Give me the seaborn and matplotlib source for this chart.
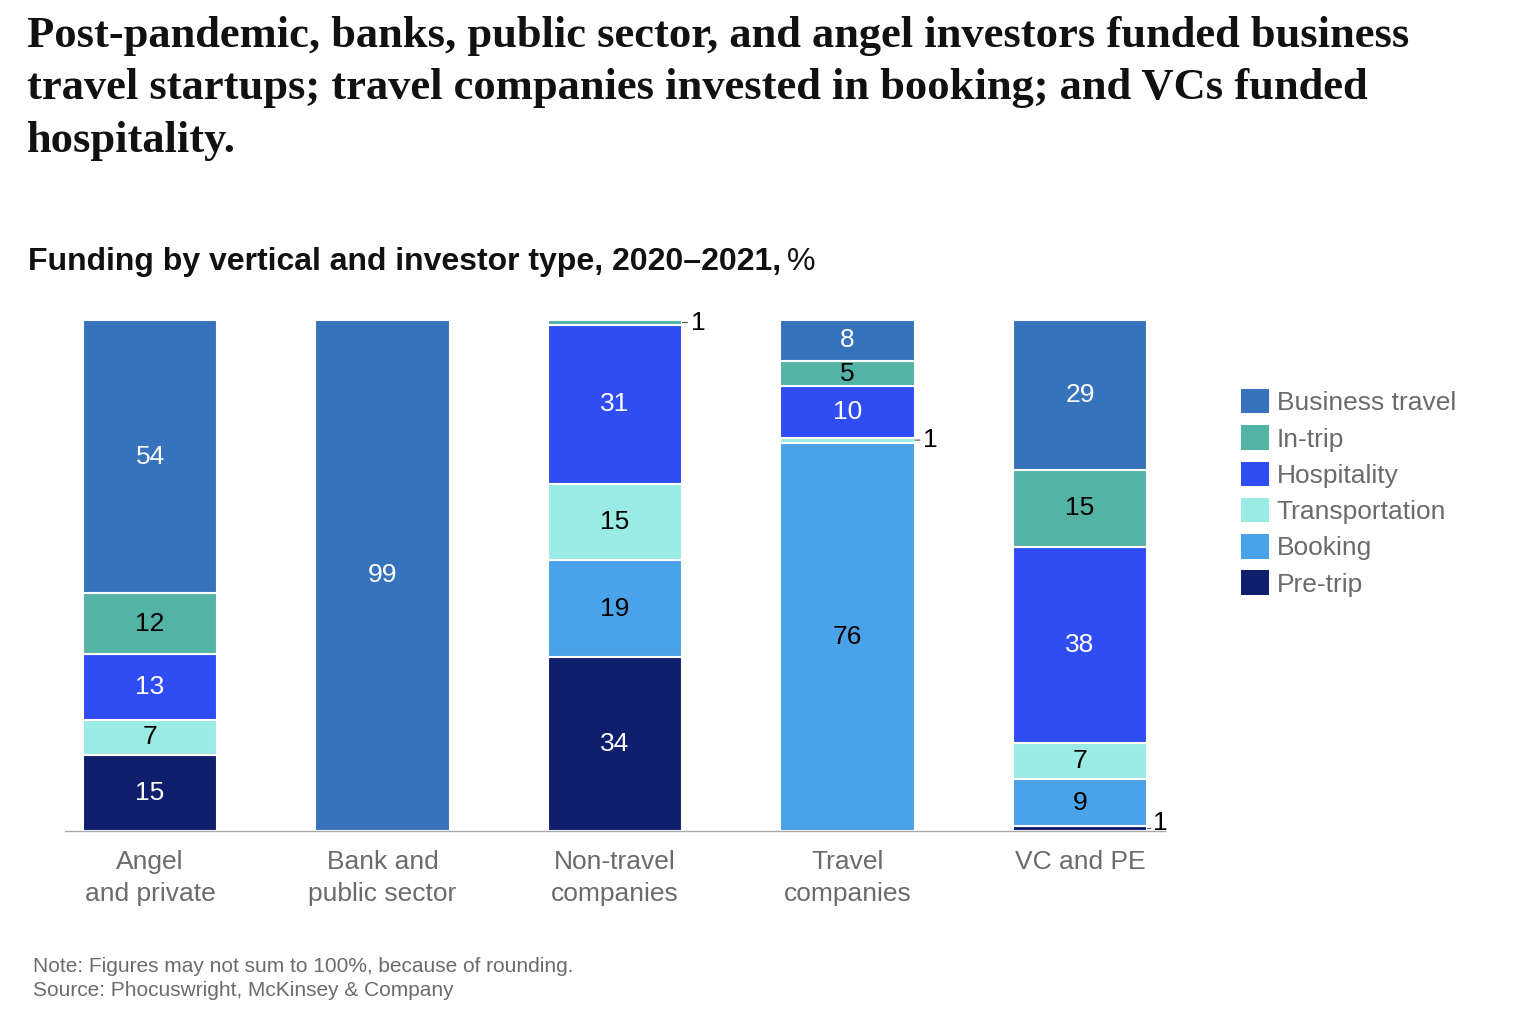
#!/usr/bin/env python3
"""
Funding by vertical and investor type, 2020-2021 (stacked 100% bars).
"""

import matplotlib.pyplot as plt
import matplotlib.patches as mpatches
import seaborn as sns
import pandas as pd
import numpy as np

sns.set_theme(style="white")
plt.rcParams["font.family"] = ["Liberation Sans", "DejaVu Sans"]

# ------------------------------------------------------------------
# Data
# ------------------------------------------------------------------

investors = ["Angel\nand private", "Bank and\npublic sector", "Non-travel\ncompanies",
             "Travel\ncompanies", "VC and PE"]

# bottom -> top
pre_trip = [15, 0, 34, 0, 1]
booking = [0, 0, 19, 76, 9]
transportation = [7, 0, 15, 1, 7]
hospitality = [13, 0, 31, 10, 38]
in_trip = [12, 0, 1, 5, 15]
business_travel = [54, 99, 0, 8, 29]

layers = ["Pre-trip", "Booking", "Transportation", "Hospitality", "In-trip", "Business travel"]
values = [pre_trip, booking, transportation, hospitality, in_trip, business_travel]
colors = ["#101E6E", "#4AA3E9", "#99EBE3", "#2F4DF2", "#53B3A5", "#3773BC"]
label_colors = ["white", "black", "black", "white", "black", "white"]

BAR_WIDTH = 0.58
GRAY = "#6b6b6b"

# ------------------------------------------------------------------
# Figure
# ------------------------------------------------------------------

fig = plt.figure(figsize=(15.4, 10.22), dpi=100)
ax = fig.add_axes([65 / 1540, 191 / 1022, 1100 / 1540, 511 / 1022])

vals = np.array(values, dtype=float)
totals = vals.sum(axis=0)
shares = vals / totals * 100
bottoms = np.vstack([np.zeros(len(investors)), np.cumsum(shares, axis=0)[:-1]])

for k, name in enumerate(layers):
    df = pd.DataFrame({"investor": investors, "share": shares[k], "bottom": bottoms[k],
                       "raw": vals[k]})
    df = df[df["share"] > 0]
    sns.barplot(data=df, x="investor", y="share", order=investors,
                bottom=df["bottom"].values, color=colors[k], saturation=1,
                width=BAR_WIDTH, edgecolor="white", linewidth=1.5,
                errorbar=None, ax=ax)

    for _, row in df.iterrows():
        i = investors.index(row["investor"])
        mid = row["bottom"] + row["share"] / 2
        if row["raw"] >= 2:
            ax.text(i, mid, f"{int(row['raw'])}", ha="center", va="center",
                    fontsize=19, color=label_colors[k])
        else:
            edge = i + BAR_WIDTH / 2
            if row["bottom"] == 0:
                ax.annotate(f"{int(row['raw'])}", xy=(edge, mid), xytext=(4, 4),
                            textcoords="offset points", fontsize=19, color="black",
                            ha="left", va="center",
                            arrowprops=dict(arrowstyle="-", color="#555555", lw=0.8,
                                            shrinkA=0, shrinkB=0,
                                            connectionstyle="angle,angleA=90,angleB=0,rad=0"))
            else:
                ax.annotate(f"{int(row['raw'])}", xy=(edge, mid), xytext=(6, 0),
                            textcoords="offset points", fontsize=19, color="black",
                            ha="left", va="center",
                            arrowprops=dict(arrowstyle="-", color="#555555", lw=0.8,
                                            shrinkA=0, shrinkB=0))

ax.set_xlim(-0.366, 4.366)
ax.set_ylim(0, 100)
ax.set_xlabel("")
ax.set_ylabel("")
ax.set_yticks([])
for side in ["top", "right", "left"]:
    ax.spines[side].set_visible(False)
ax.spines["bottom"].set_color("#aaaaaa")
ax.spines["bottom"].set_linewidth(1)
ax.tick_params(axis="x", length=0, pad=14, labelsize=19, labelcolor=GRAY)
for lbl in ax.get_xticklabels():
    lbl.set_linespacing(1.4)

# legend (top layer first)
handles = [mpatches.Patch(facecolor=colors[k], edgecolor="none", label=layers[k])
           for k in reversed(range(len(layers)))]
leg = fig.legend(handles=handles, loc="upper left", bbox_to_anchor=(1241 / 1540, 1 - 389 / 1022),
                 frameon=False, fontsize=19, handlelength=1.05, handleheight=1.05,
                 handletextpad=0.3, labelspacing=0.38, borderpad=0, borderaxespad=0)
for t in leg.get_texts():
    t.set_color(GRAY)

# ------------------------------------------------------------------
# Titles and notes
# ------------------------------------------------------------------

fig.text(27 / 1540, 1 - 16 / 1022,
         "Post-pandemic, banks, public sector, and angel investors funded business\n"
         "travel startups; travel companies invested in booking; and VCs funded\n"
         "hospitality.",
         ha="left", va="top", fontsize=32, fontweight="bold", color="#111111",
         family=["Liberation Serif", "DejaVu Serif"], linespacing=1.4)

sub = fig.text(28 / 1540, 1 - 270 / 1022, "Funding by vertical and investor type, 2020\u20132021,",
               ha="left", va="baseline", fontsize=23, fontweight="bold", color="#111111")
fig.canvas.draw()
bb = sub.get_window_extent().transformed(fig.transFigure.inverted())
fig.text(bb.x1 + 6 / 1540, 1 - 270 / 1022, "%", ha="left", va="baseline",
         fontsize=23, color="#111111")

fig.text(33 / 1540, 1 - 972 / 1022, "Note: Figures may not sum to 100%, because of rounding.",
         ha="left", va="baseline", fontsize=15, color=GRAY)
fig.text(33 / 1540, 1 - 996 / 1022, "Source: Phocuswright, McKinsey & Company",
         ha="left", va="baseline", fontsize=15, color=GRAY)

fig.savefig("out.png", dpi=100)
